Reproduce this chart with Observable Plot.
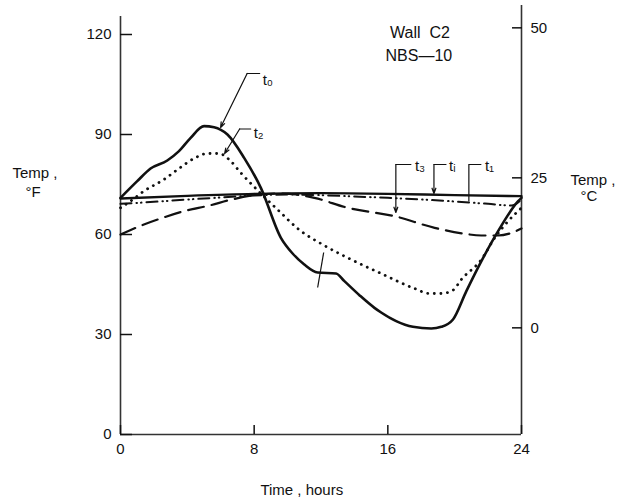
<!DOCTYPE html>
<html>
<head>
<meta charset="utf-8">
<script src="https://cdn.jsdelivr.net/npm/d3@7"></script>
<script src="https://cdn.jsdelivr.net/npm/@observablehq/plot@0.6"></script>
<style>
  html, body { margin: 0; padding: 0; background: #fff; }
  #chart svg { display: block; }
</style>
</head>
<body>
<div id="chart"></div>
<script>
// ---- Data: [hour, °F] ----
const t0 = [[0,71],[1,76],[1.8,79.8],[2.8,82.2],[3.5,85],[4.2,89],[5,92.5],[5.6,92.2],[6.4,90],[7.4,83],[8.4,74],[9.6,59],[10.3,54.3],[11,51],[11.8,48.6],[12.9,48.3],[13.4,46],[14.3,41.8],[15.2,38],[15.6,36.6],[16.5,34],[17.5,32.3],[18.6,31.8],[19.2,32.3],[19.9,34.5],[20.7,43],[21.6,52],[22.6,61],[23.8,70],[24,71]];
const t2 = [[0,68],[0.6,70],[1.4,73],[2.6,76.5],[3.5,79.8],[4.4,82.8],[5.2,84.3],[5.9,84.3],[6.5,82.5],[7.2,78.5],[8.4,72.3],[9.6,66.5],[10.6,61.8],[12.2,56.7],[13.6,53],[15.6,48.3],[17.6,43.8],[18.5,42.3],[19.2,42.3],[19.9,43.3],[20.4,46.5],[21.6,52.5],[22.4,59],[23.2,64],[24,68]];
const t3 = [[0,60],[1,62.2],[2.4,64.8],[3.8,67],[5.4,68.8],[6.5,70.3],[8,71.8],[9.5,72.3],[10.5,72],[11.6,71],[13.6,68],[16.4,65.5],[18.8,62],[20.5,60.3],[21.6,59.7],[22.6,59.7],[23.3,60.3],[24,61.8]];
const ti = [[0,70.8],[4,71.6],[8,72.2],[12,72.4],[16,72.2],[20,71.8],[24,71.5]];
const t1 = [[0,69.2],[2,69.8],[4,70.5],[6,71.1],[8,71.7],[10,72],[12,71.8],[14,71.4],[16,71],[18,70.5],[20,69.9],[22,69.2],[23.4,68.7],[24,70.5]];

// ---- Axes ----
const xTicks = [0, 8, 16, 24];
const yTicksF = [0, 30, 60, 90, 120];
const yTicksC = [0, 25, 50];
const cToF = c => c * 9 / 5 + 32;

// ---- Annotations: labels and leader lines [hour, °F] ----
const seriesLabels = [
  {text: "t\u2080", x: 8.51, y: 106.2},
  {text: "t\u2082", x: 7.97, y: 90.3},
  {text: "t\u2083", x: 17.62, y: 80.4},
  {text: "t\u1D62", x: 19.66, y: 80.4},
  {text: "t\u2081", x: 21.81, y: 80.4}
];
const leaderElbows = [
  [[8.33,108.3],[7.58,108.3]],
  [[7.79,91.65],[7.13,91.65]],
  [[17.38,81],[16.48,81]],
  [[19.48,81],[18.76,81]],
  [[21.57,81],[20.85,81]]
];
const leaderArrows = [
  {x1: 7.58, y1: 108.3, x2: 5.99, y2: 92.1},
  {x1: 7.13, y1: 91.65, x2: 6.23, y2: 84.3},
  {x1: 16.48, y1: 81, x2: 16.48, y2: 66.6},
  {x1: 18.76, y1: 81, x2: 18.76, y2: 72.3}
];
const leaderPlain = [
  {x1: 20.85, y1: 81, x2: 20.85, y2: 69.9},
  {x1: 12.16, y1: 54.6, x2: 11.8, y2: 44.1}
];
const notes = [
  {text: "Wall  C2", x: 17.92, y: 120.6},
  {text: "NBS\u201410", x: 17.86, y: 113.7}
];

const ink = "#111";
const lineOpts = {x: d => d[0], y: d => d[1], stroke: ink, curve: "monotone-x", strokeLinejoin: "round"};

const chart = Plot.plot({
  width: 621,
  height: 501,
  marginLeft: 120,
  marginRight: 100,
  marginTop: 4,
  marginBottom: 67,
  x: {domain: [0, 24]},
  y: {domain: [0, 129]},
  style: {fontFamily: "'Liberation Sans','DejaVu Sans',sans-serif", fontSize: "15px", color: ink, background: "#fff"},
  marks: [
    // axis lines
    Plot.ruleY([0], {x1: 0, x2: 24, stroke: "#333", strokeWidth: 1.6}),
    Plot.ruleX([0], {y1: 0, y2: 125.4, stroke: "#333", strokeWidth: 1.6}),
    Plot.ruleX([24], {y1: 0, y2: 128.7, stroke: "#333", strokeWidth: 1.6}),
    Plot.axisY({anchor: "left", ticks: yTicksF, tickSize: -12, tickPadding: 21, label: null, strokeWidth: 1.5}),
    Plot.axisY({anchor: "right", ticks: yTicksC.map(cToF), tickFormat: f => String(Math.round((f - 32) * 5 / 9)), tickSize: -10, tickPadding: 19, label: null, strokeWidth: 1.5}),
    Plot.axisX({anchor: "bottom", ticks: xTicks, tickSize: -9, tickPadding: 18, label: null, strokeWidth: 1.5}),
    // series
    Plot.line(ti, {...lineOpts, strokeWidth: 2.4}),
    Plot.line(t1, {...lineOpts, strokeWidth: 2, strokeDasharray: "11 5 0.5 4 0.5 5", strokeLinecap: "round"}),
    Plot.line(t3, {...lineOpts, strokeWidth: 2.2, strokeDasharray: "16 8"}),
    Plot.line(t2, {...lineOpts, strokeWidth: 2.8, strokeDasharray: "0.1 6.5", strokeLinecap: "round"}),
    Plot.line(t0, {...lineOpts, strokeWidth: 2.6}),
    // leaders
    ...leaderElbows.map(seg => Plot.line(seg, {x: d => d[0], y: d => d[1], stroke: ink, strokeWidth: 1.2})),
    Plot.arrow(leaderArrows, {x1: "x1", y1: "y1", x2: "x2", y2: "y2", stroke: ink, strokeWidth: 1.2, headLength: 7, headAngle: 40}),
    Plot.link(leaderPlain, {x1: "x1", y1: "y1", x2: "x2", y2: "y2", stroke: ink, strokeWidth: 1.2}),
    Plot.text(seriesLabels, {x: "x", y: "y", text: "text", textAnchor: "start", fontSize: 15}),
    Plot.text(notes, {x: "x", y: "y", text: "text", fontSize: 16}),
    // axis titles
    Plot.text(["Temp ,"], {frameAnchor: "left", y: 78.3, dx: -108, textAnchor: "start", fontSize: 15}),
    Plot.text(["\u00B0F"], {frameAnchor: "left", y: 72.6, dx: -95, textAnchor: "start", fontSize: 15}),
    Plot.text(["Temp ,"], {frameAnchor: "right", y: 76.2, dx: 49, textAnchor: "start", fontSize: 15}),
    Plot.text(["\u00B0C"], {frameAnchor: "right", y: 71.4, dx: 59, textAnchor: "start", fontSize: 15}),
    Plot.text(["Time , hours"], {x: 10.85, y: 0, dy: 56, fontSize: 15})
  ]
});
document.getElementById("chart").appendChild(chart);
</script>
</body>
</html>
